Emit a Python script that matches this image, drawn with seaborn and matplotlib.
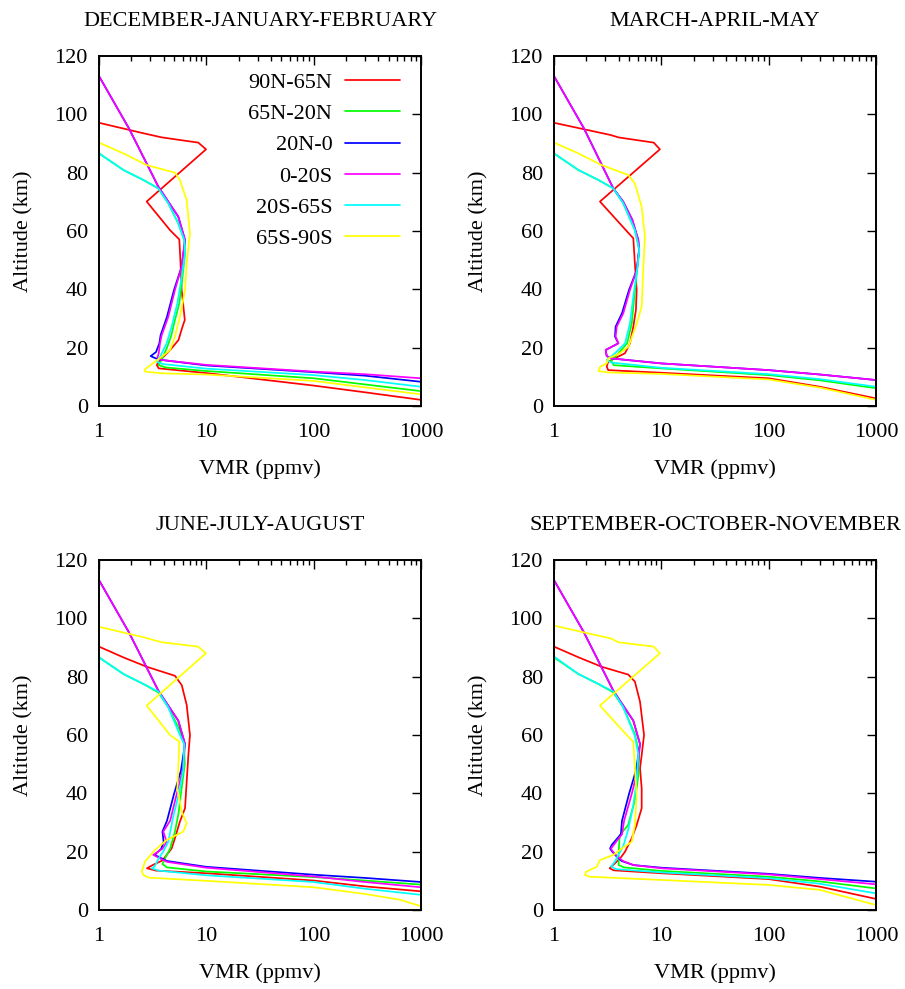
import matplotlib
matplotlib.use("Agg")
import matplotlib.pyplot as plt
import pandas as pd
import seaborn as sns
from matplotlib.ticker import LogLocator, NullFormatter

SEASONS = ["DECEMBER-JANUARY-FEBRUARY", "MARCH-APRIL-MAY",
           "JUNE-JULY-AUGUST", "SEPTEMBER-OCTOBER-NOVEMBER"]
BANDS = ["90N-65N", "65N-20N", "20N-0", "0-20S", "20S-65S", "65S-90S"]
COLORS = ["#ff0000", "#00ff00", "#0000ff", "#ff00ff", "#00ffff", "#ffff00"]
X_TICKS = [1, 10, 100, 1000]
X_TICK_LABELS = ["1", "10", "100", "1000"]
Y_TICKS = [0, 20, 40, 60, 80, 100, 120]

# Profiles: (altitude km, VMR ppmv), from top to bottom
DJF_90N_65N = [(97.1, 1.0), (93.5, 2.6), (92.1, 3.84), (90.3, 8.42), (88.0, 9.94), (70.1, 2.78), (60.3, 4.59), (57.1, 5.6), (48.9, 5.75), (39.8, 5.89), (29.5, 6.3), (27.2, 6.0), (22.6, 5.5), (19.2, 4.6), (16.3, 3.84), (14.1, 3.45), (12.9, 3.6), (11.3, 10), (7.0, 100), (4.7, 300), (2.1, 1000)]
DJF_65N_20N = [(86.6, 1.0), (80.9, 1.69), (77.5, 2.59), (74.6, 3.57), (69.5, 4.42), (62.6, 5.48), (56.9, 6.23), (52.3, 6.33), (44.3, 6.0), (35.2, 5.6), (29.5, 5.1), (24.0, 4.7), (20.0, 4.3), (16.5, 3.9), (14.0, 3.6), (13.2, 4.2), (12.0, 10), (9.5, 100), (7.4, 300), (5.1, 1000)]
DJF_20N_0 = [(113.1, 1.0), (95.2, 1.9), (75.2, 3.57), (64.9, 5.48), (56.9, 6.33), (47.8, 5.89), (39.8, 5.0), (30.6, 4.3), (24.3, 3.75), (21.5, 3.65), (18.5, 3.4), (17.1, 3.03), (16.3, 3.4), (15.8, 3.8), (13.9, 10), (11.6, 100), (10.4, 300), (8.3, 1000)]
DJF_0_20S = [(113.1, 1.0), (95.2, 1.9), (75.2, 3.57), (64.9, 5.48), (56.9, 6.33), (47.8, 5.89), (39.8, 5.1), (30.6, 4.42), (24.3, 3.84), (21.5, 3.7), (18.0, 3.6), (16.6, 3.5), (15.8, 3.8), (14.1, 10), (11.8, 100), (10.9, 300), (9.5, 1000)]
DJF_20S_65S = [(86.6, 1.0), (80.9, 1.69), (77.5, 2.59), (74.6, 3.57), (69.5, 4.42), (62.6, 5.48), (56.9, 6.23), (52.3, 6.33), (44.3, 5.89), (35.2, 5.37), (27.2, 4.75), (21.5, 4.27), (16.9, 3.7), (15.2, 3.45), (14.4, 3.9), (12.8, 10), (10.6, 100), (8.9, 300), (6.6, 1000)]
DJF_65S_90S = [(90.3, 1.0), (86.6, 1.69), (82.6, 2.78), (80.0, 5.1), (77.5, 5.67), (70.6, 6.56), (59.2, 7.04), (48.9, 6.56), (39.8, 6.33), (30.6, 5.67), (23.8, 5.1), (19.2, 4.6), (16.9, 3.84), (12.6, 2.68), (11.8, 2.68), (11.2, 3.84), (10.8, 10), (8.6, 100), (6.4, 300), (4.0, 1000)]

MAM_90N_65N = [(97.1, 1.0), (92.9, 3.38), (92.1, 3.98), (90.3, 8.5), (88.0, 9.7), (70.1, 2.68), (60.6, 4.59), (57.5, 5.48), (48.9, 5.67), (39.8, 5.89), (33.0, 5.8), (27.2, 5.48), (21.5, 5.1), (18.1, 4.59), (15.2, 3.2), (13.5, 3.1), (12.3, 3.2), (11.4, 10), (9.5, 100), (6.6, 300), (2.6, 1000)]
MAM_65N_20N = [(86.6, 1.0), (80.9, 1.69), (77.5, 2.59), (74.6, 3.57), (69.5, 4.42), (60.3, 5.67), (53.5, 6.23), (47.8, 6.0), (37.5, 5.6), (28.3, 5.3), (21.5, 4.8), (18.1, 4.0), (15.5, 3.4), (14.0, 3.6), (12.9, 10), (10.6, 100), (8.8, 300), (6.1, 1000)]
MAM_20N_0 = [(113.1, 1.0), (95.2, 1.9), (74.6, 3.57), (70.0, 4.42), (63.8, 5.37), (56.9, 6.1), (53.5, 6.2), (46.6, 5.9), (39.8, 5.0), (31.8, 4.3), (27.2, 3.75), (23.8, 3.7), (21.5, 3.98), (19.2, 3.03), (17.1, 3.1), (16.3, 3.45), (14.6, 10), (12.3, 100), (10.8, 300), (8.9, 1000)]
MAM_0_20S = [(113.1, 1.0), (95.2, 1.9), (74.6, 3.57), (70.0, 4.42), (63.8, 5.37), (56.9, 6.1), (53.5, 6.2), (46.6, 5.9), (39.8, 5.1), (31.8, 4.42), (27.2, 3.84), (23.8, 3.75), (21.5, 3.98), (19.2, 3.03), (17.1, 3.1), (16.3, 3.45), (14.6, 10), (12.3, 100), (10.8, 300), (8.9, 1000)]
MAM_20S_65S = [(86.6, 1.0), (80.9, 1.69), (77.5, 2.59), (74.6, 3.57), (69.5, 4.42), (60.3, 5.67), (53.5, 6.23), (47.8, 6.0), (37.5, 5.48), (28.3, 5.1), (21.5, 4.59), (18.1, 3.7), (15.8, 3.1), (14.9, 3.4), (13.1, 10), (10.9, 100), (9.2, 300), (6.6, 1000)]
MAM_65S_90S = [(90.3, 1.0), (86.6, 1.69), (82.6, 2.78), (79.2, 4.93), (76.3, 5.67), (68.3, 6.56), (58.1, 7.04), (47.8, 6.8), (34.1, 6.56), (28.3, 5.9), (20.3, 4.93), (18.1, 4.1), (16.3, 3.2), (14.6, 3.1), (13.5, 2.7), (12.0, 2.59), (11.5, 3.2), (11.0, 10), (9.1, 100), (6.3, 300), (2.1, 1000)]

JJA_90N_65N = [(90.3, 1.0), (86.6, 1.69), (83.4, 2.78), (80.3, 5.1), (77.1, 5.9), (70.3, 6.56), (60.0, 7.04), (53.1, 6.8), (44.0, 6.56), (34.9, 6.33), (30.3, 5.67), (24.6, 5.1), (21.1, 4.75), (17.0, 3.9), (15.5, 3.2), (14.3, 2.8), (13.5, 3.4), (12.6, 10), (10.1, 100), (8.1, 300), (6.4, 1000)]
JJA_65N_20N = [(86.6, 1.0), (80.9, 1.69), (77.5, 2.59), (74.6, 3.57), (69.5, 4.42), (62.0, 5.6), (56.9, 6.2), (50.0, 6.3), (42.0, 5.9), (33.0, 5.5), (26.9, 5.1), (21.1, 4.6), (17.5, 4.1), (15.8, 3.9), (14.6, 4.3), (13.2, 10), (11.3, 100), (10.1, 300), (8.7, 1000)]
JJA_20N_0 = [(113.1, 1.0), (95.2, 1.9), (75.2, 3.57), (64.9, 5.48), (56.9, 6.33), (47.8, 5.8), (39.8, 5.0), (30.6, 4.3), (26.9, 3.9), (23.4, 4.0), (21.0, 3.8), (18.9, 3.3), (17.7, 3.84), (16.8, 4.3), (14.8, 10), (12.1, 100), (11.0, 300), (9.6, 1000)]
JJA_0_20S = [(113.1, 1.0), (95.2, 1.9), (75.2, 3.57), (64.9, 5.48), (56.9, 6.33), (47.8, 6.0), (39.8, 5.3), (30.6, 4.6), (26.9, 3.97), (23.4, 4.27), (21.0, 3.9), (18.9, 3.2), (17.7, 3.7), (16.5, 4.3), (14.5, 10), (11.5, 100), (9.6, 300), (7.8, 1000)]
JJA_20S_65S = [(86.6, 1.0), (80.9, 1.69), (77.5, 2.59), (74.9, 3.57), (69.5, 4.42), (60.0, 5.67), (56.9, 6.23), (48.0, 6.1), (40.5, 5.6), (31.8, 4.9), (23.4, 4.42), (20.3, 4.0), (17.7, 3.6), (14.9, 3.3), (14.3, 3.1), (13.5, 3.6), (11.9, 10), (9.6, 100), (7.3, 300), (5.2, 1000)]
JJA_65S_90S = [(97.1, 1.0), (93.5, 2.6), (91.8, 3.84), (90.3, 8.4), (88.0, 9.9), (70.1, 2.78), (60.0, 4.59), (57.7, 5.6), (49.7, 5.5), (41.7, 5.37), (33.7, 5.9), (29.7, 6.56), (26.9, 6.1), (24.0, 4.27), (20.6, 3.33), (16.6, 2.68), (13.1, 2.5), (12.0, 2.6), (11.1, 2.88), (10.0, 10), (7.8, 100), (5.5, 300), (3.5, 640), (1.3, 1000)]

SON_90N_65N = [(90.3, 1.0), (86.6, 1.7), (83.4, 2.78), (80.7, 4.93), (78.3, 5.67), (71.4, 6.33), (60.0, 6.9), (53.1, 6.56), (48.6, 6.33), (41.7, 6.56), (34.9, 6.56), (29.1, 5.89), (24.6, 5.3), (20.0, 4.59), (17.7, 4.13), (14.3, 3.3), (13.6, 3.6), (12.6, 10), (10.6, 100), (8.0, 300), (3.8, 1000)]
SON_65N_20N = [(86.6, 1.0), (80.9, 1.69), (77.5, 2.59), (74.6, 3.57), (69.5, 4.42), (60.3, 5.67), (53.5, 6.23), (46.0, 6.1), (38.0, 5.7), (29.1, 4.9), (25.7, 4.1), (20.0, 4.0), (15.4, 4.0), (14.6, 4.5), (13.4, 10), (11.4, 100), (9.8, 300), (7.4, 1000)]
SON_20N_0 = [(113.1, 1.0), (95.2, 1.9), (75.2, 3.57), (64.9, 5.48), (56.9, 6.33), (47.8, 5.8), (39.8, 5.0), (30.6, 4.3), (26.0, 4.2), (22.3, 3.45), (21.1, 3.33), (20.2, 3.45), (18.3, 3.84), (16.8, 4.27), (15.4, 5.5), (14.5, 10), (12.4, 100), (11.0, 300), (9.7, 1000)]
SON_0_20S = [(113.1, 1.0), (95.2, 1.9), (75.2, 3.57), (64.9, 5.48), (56.9, 6.33), (47.8, 6.0), (39.8, 5.3), (30.6, 4.5), (26.0, 4.3), (22.3, 3.6), (21.1, 3.4), (20.2, 3.5), (18.3, 3.9), (16.8, 4.4), (15.4, 5.5), (14.3, 10), (12.2, 100), (10.6, 300), (8.8, 1000)]
SON_20S_65S = [(86.9, 1.0), (80.9, 1.69), (77.5, 2.59), (74.9, 3.57), (69.5, 4.42), (59.6, 5.67), (53.5, 6.1), (44.8, 5.9), (35.8, 5.48), (27.8, 4.93), (21.9, 4.42), (17.5, 3.8), (16.6, 3.7), (14.9, 3.4), (14.0, 3.8), (12.9, 10), (10.9, 100), (9.0, 300), (5.7, 1000)]
SON_65S_90S = [(97.5, 1.0), (93.1, 3.38), (91.8, 3.98), (90.3, 8.5), (88.0, 9.7), (70.1, 2.68), (60.6, 4.59), (57.7, 5.48), (48.6, 5.67), (39.4, 5.89), (29.1, 5.67), (23.4, 5.3), (21.1, 4.3), (18.9, 3.57), (17.1, 2.68), (14.8, 2.5), (13.1, 1.99), (12.0, 1.94), (11.4, 2.17), (10.3, 10), (8.6, 100), (6.9, 300), (1.7, 1000)]

PROFILES = {
    SEASONS[0]: [DJF_90N_65N, DJF_65N_20N, DJF_20N_0, DJF_0_20S, DJF_20S_65S, DJF_65S_90S],
    SEASONS[1]: [MAM_90N_65N, MAM_65N_20N, MAM_20N_0, MAM_0_20S, MAM_20S_65S, MAM_65S_90S],
    SEASONS[2]: [JJA_90N_65N, JJA_65N_20N, JJA_20N_0, JJA_0_20S, JJA_20S_65S, JJA_65S_90S],
    SEASONS[3]: [SON_90N_65N, SON_65N_20N, SON_20N_0, SON_0_20S, SON_20S_65S, SON_65S_90S],
}

rows = []
for season, curves in PROFILES.items():
    for band, curve in zip(BANDS, curves):
        for i, (alt, vmr) in enumerate(curve):
            rows.append({"season": season, "band": band, "order": i, "alt": alt, "vmr": vmr})
df = pd.DataFrame(rows)

sns.set_theme(style="white")
plt.rcParams["font.family"] = ["Liberation Serif", "DejaVu Serif"]
plt.rcParams["text.color"] = "black"
plt.rcParams["axes.labelcolor"] = "black"
plt.rcParams["xtick.color"] = "black"
plt.rcParams["ytick.color"] = "black"

W, H = 905, 989
fig = plt.figure(figsize=(W / 100, H / 100), dpi=100)
corners = [(99, 56), (554, 56), (99, 560), (554, 560)]
aw, ah = 322, 350
FS = 16
LW = 1.25

for k, season in enumerate(SEASONS):
    x0, y0 = corners[k]
    ax = fig.add_axes([x0 / W, 1 - (y0 + ah) / H, aw / W, ah / H])
    ax.set_xscale("log")
    sub = df[df["season"] == season]
    sns.lineplot(data=sub, x="vmr", y="alt", hue="band", hue_order=BANDS,
                 palette=COLORS, sort=False, estimator=None, linewidth=LW,
                 ax=ax, legend=(k == 0))
    ax.set_xlim(1, 1000)
    ax.set_ylim(0, 120)
    ax.set_xticks(X_TICKS, X_TICK_LABELS)
    ax.xaxis.set_minor_locator(LogLocator(base=10, subs=range(2, 10)))
    ax.xaxis.set_minor_formatter(NullFormatter())
    ax.set_yticks(Y_TICKS)
    ax.tick_params(which="both", direction="in", top=True, right=True,
                   color="black", width=1.0)
    ax.tick_params(which="major", length=6.5, labelsize=FS)
    ax.tick_params(which="minor", length=3.5)
    ax.tick_params(axis="y", which="major", pad=8)
    ax.tick_params(axis="x", which="major", pad=12)
    for sp in ax.spines.values():
        sp.set_color("black")
        sp.set_linewidth(1.4)
    ax.set_xlabel("VMR (ppmv)", fontsize=FS)
    ax.set_ylabel("Altitude (km)", fontsize=FS)
    ax.xaxis.set_label_coords(0.5, -0.153)
    ax.yaxis.set_label_coords(-0.202, 0.5)
    ax.set_title(season, fontsize=FS, pad=21.8)
    if k == 0:
        handles, labels = ax.get_legend_handles_labels()
        for h in handles:
            h.set_linewidth(LW)
        ax.legend(handles, labels, loc="upper right", bbox_to_anchor=(0.935, 0.953),
                  frameon=False, markerfirst=False, fontsize=FS, handlelength=2.5,
                  handletextpad=0.55, labelspacing=0.48, borderpad=0, borderaxespad=0)

fig.savefig("out.png", dpi=100)
